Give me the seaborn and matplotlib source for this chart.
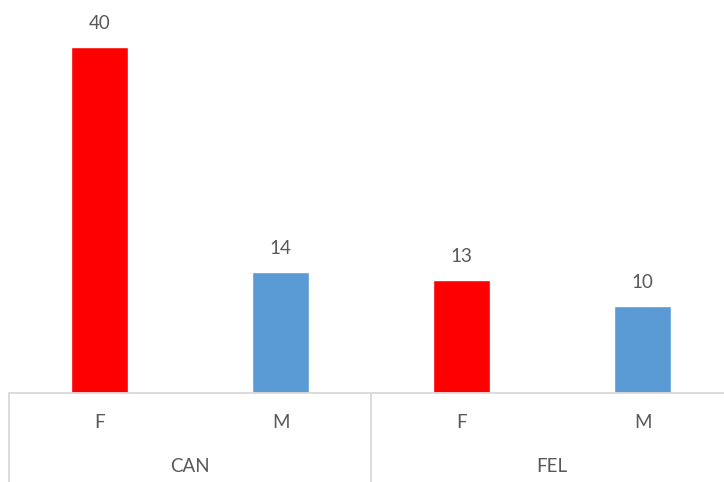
import pandas as pd
import seaborn as sns
import matplotlib.pyplot as plt
from matplotlib.transforms import blended_transform_factory

# chart data
groups = ['CAN', 'CAN', 'FEL', 'FEL']
sexes = ['F', 'M', 'F', 'M']
counts = [40, 14, 13, 10]
group_names = ['CAN', 'FEL']
colors = {'F': '#FF0000', 'M': '#5B9BD5'}

df = pd.DataFrame({'pos': [0, 1, 2, 3], 'group': groups, 'sex': sexes, 'count': counts})

sns.set_style('white')
plt.rcParams['font.family'] = ['Lato', 'DejaVu Sans']

W, H = 724, 482
fig = plt.figure(figsize=(W / 100, H / 100), dpi=100)
# axes: left 10px, baseline at 393px, extends past right edge like the source
ax = fig.add_axes([9 / W, (H - 393) / H, 724 / W, 393 / H])

sns.barplot(data=df, x='pos', y='count', hue='sex', palette=colors,
            dodge=False, width=0.31, ax=ax, legend=False, saturation=1)

ax.set_xlim(-0.5, 3.5)
ax.set_ylim(0, 45.4)
ax.set_xlabel('')
ax.set_ylabel('')
ax.set_xticks([])
ax.set_yticks([])
for s in ['top', 'right', 'left']:
    ax.spines[s].set_visible(False)
ax.spines['bottom'].set_color('#D9D9D9')
ax.spines['bottom'].set_linewidth(1.3)

text_color = '#595959'

# value labels above bars
for i, v in enumerate(counts):
    ax.annotate(str(v), (i, v), xytext=(0, 13), textcoords='offset points',
                ha='center', va='baseline', fontsize=13.5, color=text_color)

# two-level category axis
trans = blended_transform_factory(ax.transData, ax.transAxes)
px = 1 / 393
for i, s in enumerate(sexes):
    ax.text(i, -30 * px, s, transform=trans, ha='center', va='center',
            fontsize=13.5, color=text_color)
for j, g in enumerate(group_names):
    ax.text(2 * j + 0.5, -74 * px, g, transform=trans, ha='center', va='center',
            fontsize=13.5, color=text_color)
for xs in [-0.5, 1.5, 3.5]:
    ax.plot([xs, xs], [0, -100 * px], transform=trans, color='#D9D9D9',
            lw=1.3, clip_on=False)

fig.savefig('out.png', dpi=100)
